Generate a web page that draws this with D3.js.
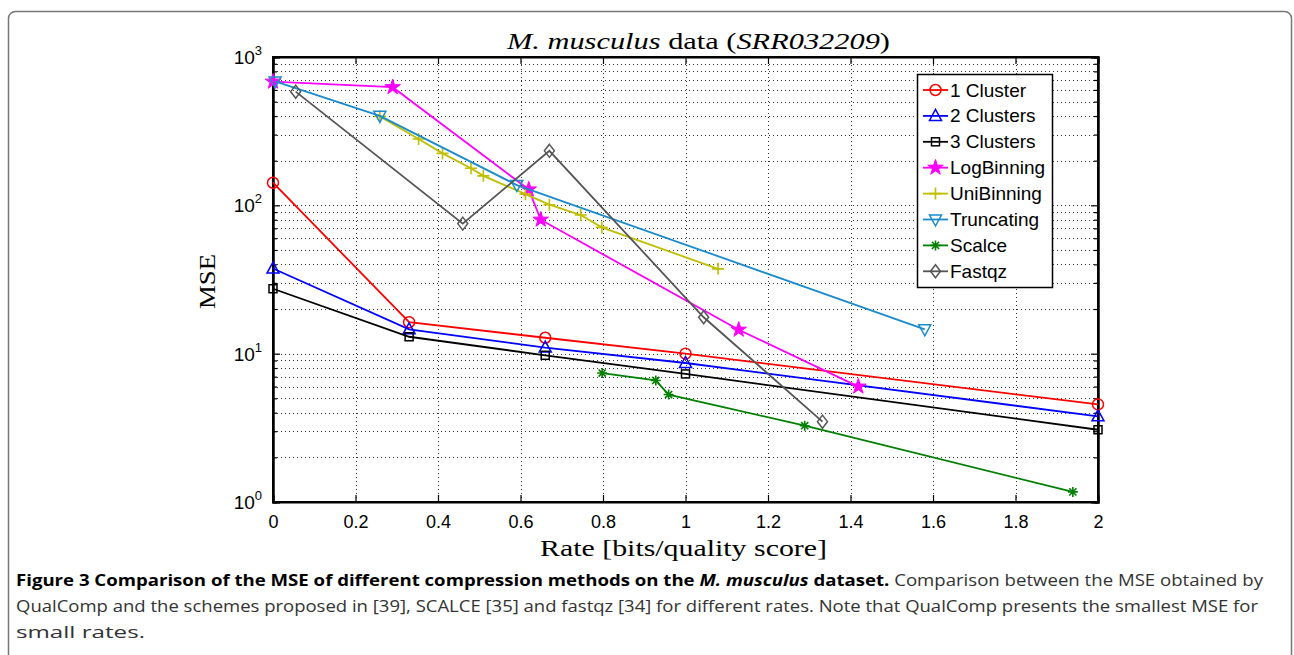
<!DOCTYPE html>
<html>
<head>
<meta charset="utf-8">
<script src="https://cdn.jsdelivr.net/npm/d3@7"></script>
<style>
  body { margin: 0; background: #fff; }
  .tick text { font-family: "Liberation Sans", Arial, sans-serif; }
</style>
</head>
<body>
<div id="chart"></div>
<script>
// Values.
var clusterRate = [0, 0.33, 0.66, 1, 2];
var cluster1Mse = [142, 16.3, 12.8, 10, 4.55];
var cluster2Mse = [37.5, 14.6, 11.0, 8.65, 3.78];
var cluster3Mse = [27.4, 13.0, 9.75, 7.3, 3.07];
var logBinRate = [0, 0.29, 0.62, 0.649, 1.129, 1.419];
var logBinMse = [682, 626, 128, 80, 14.5, 6.0];
var uniBinRate = [0.259, 0.353, 0.411, 0.48, 0.51, 0.612, 0.67, 0.746, 0.797, 1.079];
var uniBinMse = [398, 280, 224, 178, 158, 119, 101, 86, 71, 37.3];
var truncRate = [0.005, 0.259, 0.591, 1.58];
var truncMse = [684, 401, 137, 14.6];
var scalceRate = [0.798, 0.928, 0.959, 1.289, 1.939];
var scalceMse = [7.4, 6.6, 5.3, 3.27, 1.17];
var fastqzRate = [0.055, 0.46, 0.67, 1.044, 1.332];
var fastqzMse = [584, 75.3, 233, 17.6, 3.48];

var xTicks = [0, 0.2, 0.4, 0.6, 0.8, 1, 1.2, 1.4, 1.6, 1.8, 2];
var yTicks = [1, 10, 100, 1000];

var series = [
  {name: "1 Cluster", rate: clusterRate, mse: cluster1Mse, color: "#ff0000", marker: "circle"},
  {name: "2 Clusters", rate: clusterRate, mse: cluster2Mse, color: "#0000ff", marker: "triUp"},
  {name: "3 Clusters", rate: clusterRate, mse: cluster3Mse, color: "#000000", marker: "square"},
  {name: "LogBinning", rate: logBinRate, mse: logBinMse, color: "#ff00ff", marker: "star"},
  {name: "UniBinning", rate: uniBinRate, mse: uniBinMse, color: "#bfbf00", marker: "plus"},
  {name: "Truncating", rate: truncRate, mse: truncMse, color: "#1a8ccc", marker: "triDown"},
  {name: "Scalce", rate: scalceRate, mse: scalceMse, color: "#008000", marker: "asterisk"},
  {name: "Fastqz", rate: fastqzRate, mse: fastqzMse, color: "#555555", marker: "diamond"}
];

var svgWidth = 1294;
var svgHeight = 655;
var margin = {top: 57, left: 273, right: 196, bottom: 153};
var chartWidth = svgWidth - margin.left - margin.right;
var chartHeight = svgHeight - margin.top - margin.bottom;

var svg = d3.select("#chart").append("svg").attr("width", svgWidth).attr("height", svgHeight);

// Figure frame
svg.append("rect")
  .attr("x", 8.5).attr("y", 11.5).attr("width", 1283).attr("height", 720)
  .attr("rx", 7).attr("fill", "none").attr("stroke", "#777").attr("stroke-width", 1.5);

var chartGroup = svg.append("g").attr("transform", `translate(${margin.left},${margin.top})`);

var xScale = d3.scaleLinear().domain([0, 2]).range([0, chartWidth]);
var yScale = d3.scaleLog().domain([1, 1000]).range([chartHeight, 0]);

// Minor log values for grid
var yMinor = [];
[1, 10, 100].forEach(function(d) {
  for (var k = 2; k <= 9; k++) yMinor.push(d * k);
});

// Grid lines (dotted)
var grid = chartGroup.append("g");
grid.selectAll(".gx").data(xTicks.slice(1, -1)).enter().append("line")
  .attr("x1", d => Math.round(xScale(d)) + 0.5).attr("x2", d => Math.round(xScale(d)) + 0.5)
  .attr("y1", 0).attr("y2", chartHeight)
  .attr("stroke", "#333").attr("stroke-width", 1).attr("stroke-dasharray", "1,3");
grid.selectAll(".gy").data(yMinor.concat([10, 100])).enter().append("line")
  .attr("x1", 0).attr("x2", chartWidth)
  .attr("y1", d => Math.round(yScale(d)) + 0.5).attr("y2", d => Math.round(yScale(d)) + 0.5)
  .attr("stroke", "#333").attr("stroke-width", 1).attr("stroke-dasharray", "1,3");

// Axes with inward ticks
var bottomAxis = d3.axisBottom(xScale).tickValues(xTicks).tickSize(-7).tickPadding(13)
  .tickFormat(d => d3.format("")(d));
var xAxis = chartGroup.append("g").attr("transform", `translate(0,${chartHeight})`).call(bottomAxis);
var topAxis = d3.axisTop(xScale).tickValues(xTicks).tickSize(-7).tickFormat("");
chartGroup.append("g").call(topAxis);

var leftAxis = d3.axisLeft(yScale).tickValues(yTicks).tickSize(-7).tickPadding(12).tickFormat("");
var yAxis = chartGroup.append("g").call(leftAxis);
var leftMinor = d3.axisLeft(yScale).tickValues(yMinor).tickSize(-4).tickFormat("");
chartGroup.append("g").call(leftMinor);
var rightAxis = d3.axisRight(yScale).tickValues(yTicks).tickSize(-7).tickFormat("");
chartGroup.append("g").attr("transform", `translate(${chartWidth},0)`).call(rightAxis);
var rightMinor = d3.axisRight(yScale).tickValues(yMinor).tickSize(-4).tickFormat("");
chartGroup.append("g").attr("transform", `translate(${chartWidth},0)`).call(rightMinor);

chartGroup.selectAll(".domain").attr("stroke", "#000").attr("stroke-width", 2);
chartGroup.selectAll(".tick line").attr("stroke", "#000").attr("stroke-width", 1.2);
xAxis.selectAll(".tick text").attr("font-size", "18px").attr("fill", "#000");

// Box edges
chartGroup.append("rect").attr("x", 0).attr("y", 0).attr("width", chartWidth).attr("height", chartHeight)
  .attr("fill", "none").attr("stroke", "#000").attr("stroke-width", 2);

// Y tick labels as 10^n
var yLab = chartGroup.append("g");
yTicks.forEach(function(d) {
  var t = yLab.append("text")
    .attr("x", -11).attr("y", yScale(d) + 7)
    .attr("text-anchor", "end")
    .attr("font-family", "Liberation Sans, Arial, sans-serif")
    .attr("font-size", "19px").attr("fill", "#000");
  t.append("tspan").text("10");
  t.append("tspan").attr("font-size", "13px").attr("dy", "-9").text(Math.round(Math.log10(d)));
});

// Marker drawing
function drawMarker(g, type, color) {
  if (type == "circle") {
    g.append("circle").attr("r", 5.5).attr("fill", "none").attr("stroke", color).attr("stroke-width", 1.5);
  } else if (type == "triUp") {
    g.append("path").attr("d", "M0,-6.5L6,4.5L-6,4.5Z").attr("fill", "none").attr("stroke", color).attr("stroke-width", 1.5);
  } else if (type == "triDown") {
    g.append("path").attr("d", "M0,6.5L6,-4.5L-6,-4.5Z").attr("fill", "none").attr("stroke", color).attr("stroke-width", 1.5);
  } else if (type == "square") {
    g.append("rect").attr("x", -4).attr("y", -4).attr("width", 8).attr("height", 8)
      .attr("fill", "none").attr("stroke", color).attr("stroke-width", 1.5);
  } else if (type == "star") {
    g.append("path").attr("d", d3.symbol().type(d3.symbolStar).size(75)())
      .attr("fill", color).attr("stroke", color).attr("stroke-width", 1);
  } else if (type == "plus") {
    g.append("path").attr("d", "M-6,0H6M0,-6V6").attr("stroke", color).attr("stroke-width", 1.6);
  } else if (type == "asterisk") {
    g.append("path").attr("d", "M-5,0H5M0,-5V5M-3.6,-3.6L3.6,3.6M-3.6,3.6L3.6,-3.6")
      .attr("stroke", color).attr("stroke-width", 1.6);
  } else if (type == "diamond") {
    g.append("path").attr("d", "M0,-6.5L5,0L0,6.5L-5,0Z").attr("fill", "none").attr("stroke", color).attr("stroke-width", 1.5);
  }
}

var line = d3.line().x(d => xScale(d[0])).y(d => yScale(d[1]));

series.forEach(function(s) {
  var pts = s.rate.map((r, i) => [r, s.mse[i]]);
  chartGroup.append("path").datum(pts).attr("d", line)
    .attr("fill", "none").attr("stroke", s.color).attr("stroke-width", 1.8);
  pts.forEach(function(p) {
    var g = chartGroup.append("g").attr("transform", `translate(${xScale(p[0])},${yScale(p[1])})`);
    drawMarker(g, s.marker, s.color);
  });
});

// Legend
var legend = svg.append("g").attr("transform", "translate(917,74)");
legend.append("rect").attr("x", 0.5).attr("y", 0.5).attr("width", 135).attr("height", 213)
  .attr("fill", "#fff").attr("stroke", "#000").attr("stroke-width", 1.5);
series.forEach(function(s, i) {
  var y = 16 + i * 25.9;
  legend.append("line").attr("x1", 6).attr("x2", 31).attr("y1", y).attr("y2", y)
    .attr("stroke", s.color).attr("stroke-width", 1.8);
  var g = legend.append("g").attr("transform", `translate(18.5,${y})`);
  drawMarker(g, s.marker, s.color);
  legend.append("text").attr("x", 33).attr("y", y + 6.5)
    .attr("font-family", "Liberation Sans, Arial, sans-serif").attr("font-size", "19px")
    .attr("fill", "#000").text(s.name);
});

// Title
var title = svg.append("text").attr("x", margin.left + chartWidth / 2 + 13).attr("y", 49)
  .attr("text-anchor", "middle").attr("font-family", "Liberation Serif, serif")
  .attr("font-size", "23px").attr("fill", "#000")
  .attr("textLength", 383).attr("lengthAdjust", "spacingAndGlyphs");
title.append("tspan").attr("font-style", "italic").text("M. musculus");
title.append("tspan").text(" data (");
title.append("tspan").attr("font-style", "italic").text("SRR032209");
title.append("tspan").text(")");

// Axis labels
svg.append("text").attr("x", margin.left + chartWidth / 2 - 2).attr("y", 556)
  .attr("text-anchor", "middle").attr("font-family", "Liberation Serif, serif")
  .attr("font-size", "24px").attr("fill", "#000")
  .attr("textLength", 287).attr("lengthAdjust", "spacingAndGlyphs")
  .text("Rate [bits/quality score]");
svg.append("text").attr("transform", `translate(215,${margin.top + chartHeight / 2 + 2}) rotate(-90)`)
  .attr("text-anchor", "middle").attr("font-family", "Liberation Serif, serif")
  .attr("font-size", "24px").attr("fill", "#000")
  .attr("textLength", 55).attr("lengthAdjust", "spacingAndGlyphs").text("MSE");

// Caption
var cap1 = svg.append("text").attr("x", 16).attr("y", 586)
  .attr("font-family", "Open Sans, sans-serif").attr("font-size", "16.5px").attr("fill", "#333")
  .attr("textLength", 1247).attr("lengthAdjust", "spacingAndGlyphs");
cap1.append("tspan").attr("font-weight", "bold").attr("fill", "#000").text("Figure 3 Comparison of the MSE of different compression methods on the ");
cap1.append("tspan").attr("font-weight", "bold").attr("fill", "#000").attr("font-style", "italic").text("M. musculus");
cap1.append("tspan").attr("font-weight", "bold").attr("fill", "#000").text(" dataset.");
cap1.append("tspan").text(" Comparison between the MSE obtained by");
svg.append("text").attr("x", 16).attr("y", 612)
  .attr("font-family", "Open Sans, sans-serif").attr("font-size", "16.5px").attr("fill", "#333")
  .attr("textLength", 1242).attr("lengthAdjust", "spacingAndGlyphs")
  .text("QualComp and the schemes proposed in [39], SCALCE [35] and fastqz [34] for different rates. Note that QualComp presents the smallest MSE for");
svg.append("text").attr("x", 16).attr("y", 638)
  .attr("font-family", "Open Sans, sans-serif").attr("font-size", "16.5px").attr("fill", "#333")
  .attr("textLength", 129).attr("lengthAdjust", "spacingAndGlyphs")
  .text("small rates.");
</script>
</body>
</html>
